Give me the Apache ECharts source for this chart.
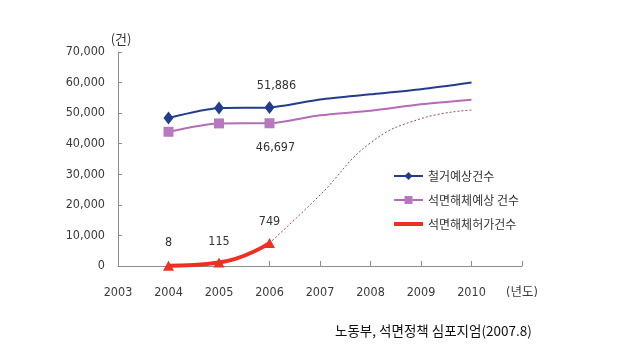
<!DOCTYPE html>
<html>
<head>
<meta charset="utf-8">
<script src="https://cdn.jsdelivr.net/npm/echarts@6/dist/echarts.min.js"></script>
<style>
html,body{margin:0;padding:0;background:#fff;}
#chart{width:618px;height:364px;}
</style>
</head>
<body>
<div id="chart"></div>
<script>
// ---- data ----
var categories = ['2003','2004','2005','2006','2007','2008','2009','2010','(년도)'];
var demolition = [null, 48400, 51650, 51886, 54500, 56150, 57800, 60000, null];
var asbestosExpected = [null, 43900, 46640, 46697, 49300, 50800, 52900, 54400, null];
var asbestosPermit = [null, 80, 1150, 7490, null, null, null, null, null];
var asbestosPermitLabels = [null, '8', '115', '749', null, null, null, null, null];
var asbestosTrend = [null, null, null, 7490, 23200, 40300, 48200, 51000, null];
var yTicks = [0, 10000, 20000, 30000, 40000, 50000, 60000, 70000];
var seriesNames = ['철거예상건수', '석면해체예상 건수', '석면해체허가건수'];
var markedUntil = 3; // markers shown through 2006
var source = '노동부, 석면정책 심포지엄(2007.8)';

var NUM_FONT = "'DejaVu Sans Condensed','Liberation Sans','Noto Sans CJK KR',sans-serif";
var KR_FONT = "'Noto Sans CJK KR','Noto Sans',sans-serif";
var NUM_SIZE = 12.5;

function fmt(v){ return String(v).replace(/\B(?=(\d{3})+(?!\d))/g, ','); }

function buildItems(arr, opts){
  return arr.map(function(v, i){
    if (v === null) return null;
    var item = {value: v};
    if (i > markedUntil) item.symbol = 'none';
    if (opts && opts.labelIdx === i) {
      item.label = {show: true, position: opts.pos, distance: opts.dist, offset: opts.offset,
        formatter: fmt(v), fontFamily: NUM_FONT, fontSize: NUM_SIZE, color: '#333'};
    }
    return item;
  });
}

var permitItems = asbestosPermit.map(function(v, i){
  if (v === null) return null;
  var d = [12, 12, 9, 10][i] || 10;
  return {value: v, label: {show: true, position: 'top', distance: d,
    formatter: asbestosPermitLabels[i], fontFamily: NUM_FONT, fontSize: NUM_SIZE, color: '#333'}};
});

var chart = echarts.init(document.getElementById('chart'), null, {renderer: 'canvas'});
chart.setOption({
  animation: false,
  backgroundColor: '#ffffff',
  grid: {left: 118, right: 96, top: 52, bottom: 98, containLabel: false},
  legend: {
    orient: 'vertical',
    left: 388, top: 165,
    itemWidth: 29, itemHeight: 10, itemGap: 12,
    textStyle: {fontFamily: KR_FONT, fontSize: 12, color: '#333'},
    data: [
      {name: seriesNames[0]},
      {name: seriesNames[1]},
      {name: seriesNames[2], icon: 'path://M0,0 L29,0 L29,4 L0,4 Z'}
    ]
  },
  xAxis: {
    type: 'category',
    data: categories,
    boundaryGap: false,
    axisLine: {lineStyle: {color: '#8c8c8c', width: 1}},
    axisTick: {inside: true, length: 5, lineStyle: {color: '#8c8c8c'}},
    axisLabel: {margin: 20, fontFamily: NUM_FONT, fontSize: NUM_SIZE, color: '#3a3a3a', interval: 0},
    splitLine: {show: false}
  },
  yAxis: {
    type: 'value',
    min: 0, max: 70000, interval: 10000,
    name: '(건)',
    nameLocation: 'end',
    nameGap: 1,
    nameTextStyle: {fontFamily: KR_FONT, fontSize: 13, color: '#333', padding: [0, 0, 0, 6]},
    axisLine: {show: true, lineStyle: {color: '#8c8c8c', width: 1}},
    axisTick: {show: true, inside: true, length: 4, lineStyle: {color: '#8c8c8c'}},
    axisLabel: {margin: 13, fontFamily: NUM_FONT, fontSize: NUM_SIZE, color: '#3a3a3a',
      formatter: function(v){ return yTicks.indexOf(v) >= 0 ? fmt(v) : ''; }},
    splitLine: {show: false}
  },
  series: [
    {
      name: seriesNames[0], type: 'line', smooth: 0.25,
      data: buildItems(demolition, {labelIdx: 3, pos: 'top', dist: 9, offset: [7, 0]}),
      symbol: 'diamond', symbolSize: [10, 13],
      lineStyle: {color: '#233d8c', width: 2},
      itemStyle: {color: '#233d8c'},
      z: 4
    },
    {
      name: seriesNames[1], type: 'line', smooth: 0.25,
      data: buildItems(asbestosExpected, {labelIdx: 3, pos: 'bottom', dist: 13, offset: [6, 0]}),
      symbol: 'rect', symbolSize: 10,
      lineStyle: {color: '#b56cb8', width: 2},
      itemStyle: {color: '#b878c0'},
      z: 3
    },
    {
      name: seriesNames[2], type: 'line', smooth: 0.5,
      data: permitItems,
      symbol: 'triangle', symbolSize: [11, 10],
      lineStyle: {color: '#ee2f24', width: 4},
      itemStyle: {color: '#ee2f24'},
      z: 5
    },
    {
      name: 'trend', type: 'line', smooth: 0.45,
      data: asbestosTrend,
      symbol: 'none',
      lineStyle: {color: '#a04a66', width: 1, type: [2, 2]},
      z: 2
    }
  ],
  graphic: [
    {type: 'text', left: 335, top: 324,
      style: {text: source, fontFamily: KR_FONT, fontSize: 13.5, fill: '#111'}}
  ]
});
</script>
</body>
</html>
